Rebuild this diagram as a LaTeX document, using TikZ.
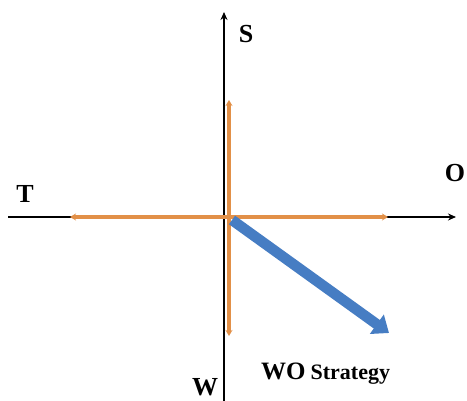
\documentclass[tikz,border=0pt]{standalone}
\usepackage{fontspec}
\setmainfont{Liberation Serif}
\usetikzlibrary{arrows.meta}
\definecolor{orng}{RGB}{226,144,72}
\definecolor{blu}{RGB}{70,125,195}
\tikzset{
  axisline/.style={draw=black,line width=1.2pt},
  orngline/.style={draw=orng,line width=4.2pt,-{Stealth[length=6pt,width=7pt]}},
  lbl/.style={font=\bfseries\fontsize{26}{28}\selectfont,inner sep=0pt}
}
\begin{document}
\begin{tikzpicture}[x=1pt,y=-1pt]
\useasboundingbox (0,0) rectangle (467,401);
\coordinate (o) at (224,217);
\coordinate (oo) at (229,217);
\coordinate (top) at (224,12);
\coordinate (bot) at (224,401);
\coordinate (left) at (8,217);
\coordinate (right) at (456,217);
\draw[axisline,-{Stealth[length=8pt,width=7pt]}] (bot) -- (top);
\draw[axisline,-{Stealth[length=8pt,width=7pt]}] (left) -- (right);
\coordinate (ou) at (229,100);
\coordinate (od) at (229,336);
\coordinate (ol) at (70,217);
\coordinate (or) at (388,217);
\draw[orngline] (oo) -- (ou);
\draw[orngline] (oo) -- (od);
\draw[orngline] (oo) -- (ol);
\draw[orngline] (oo) -- (or);
\coordinate (bs) at (232,220);
\coordinate (be) at (389,333);
\draw[draw=blu,line width=10.5pt,-{Triangle[length=15pt,width=23pt]}] (bs) -- (be);
\node[lbl] (S) at (246,34) {S};
\node[lbl] (T) at (25,194) {T};
\node[lbl] (O) at (455,173) {O};
\node[lbl] (W) at (205,387) {W};
\node[inner sep=0pt,anchor=base west] (WO) at (261,380) {\bfseries\fontsize{25}{27}\selectfont WO\hspace{5pt}\fontsize{22}{24}\selectfont Strategy};
\end{tikzpicture}
\end{document}
